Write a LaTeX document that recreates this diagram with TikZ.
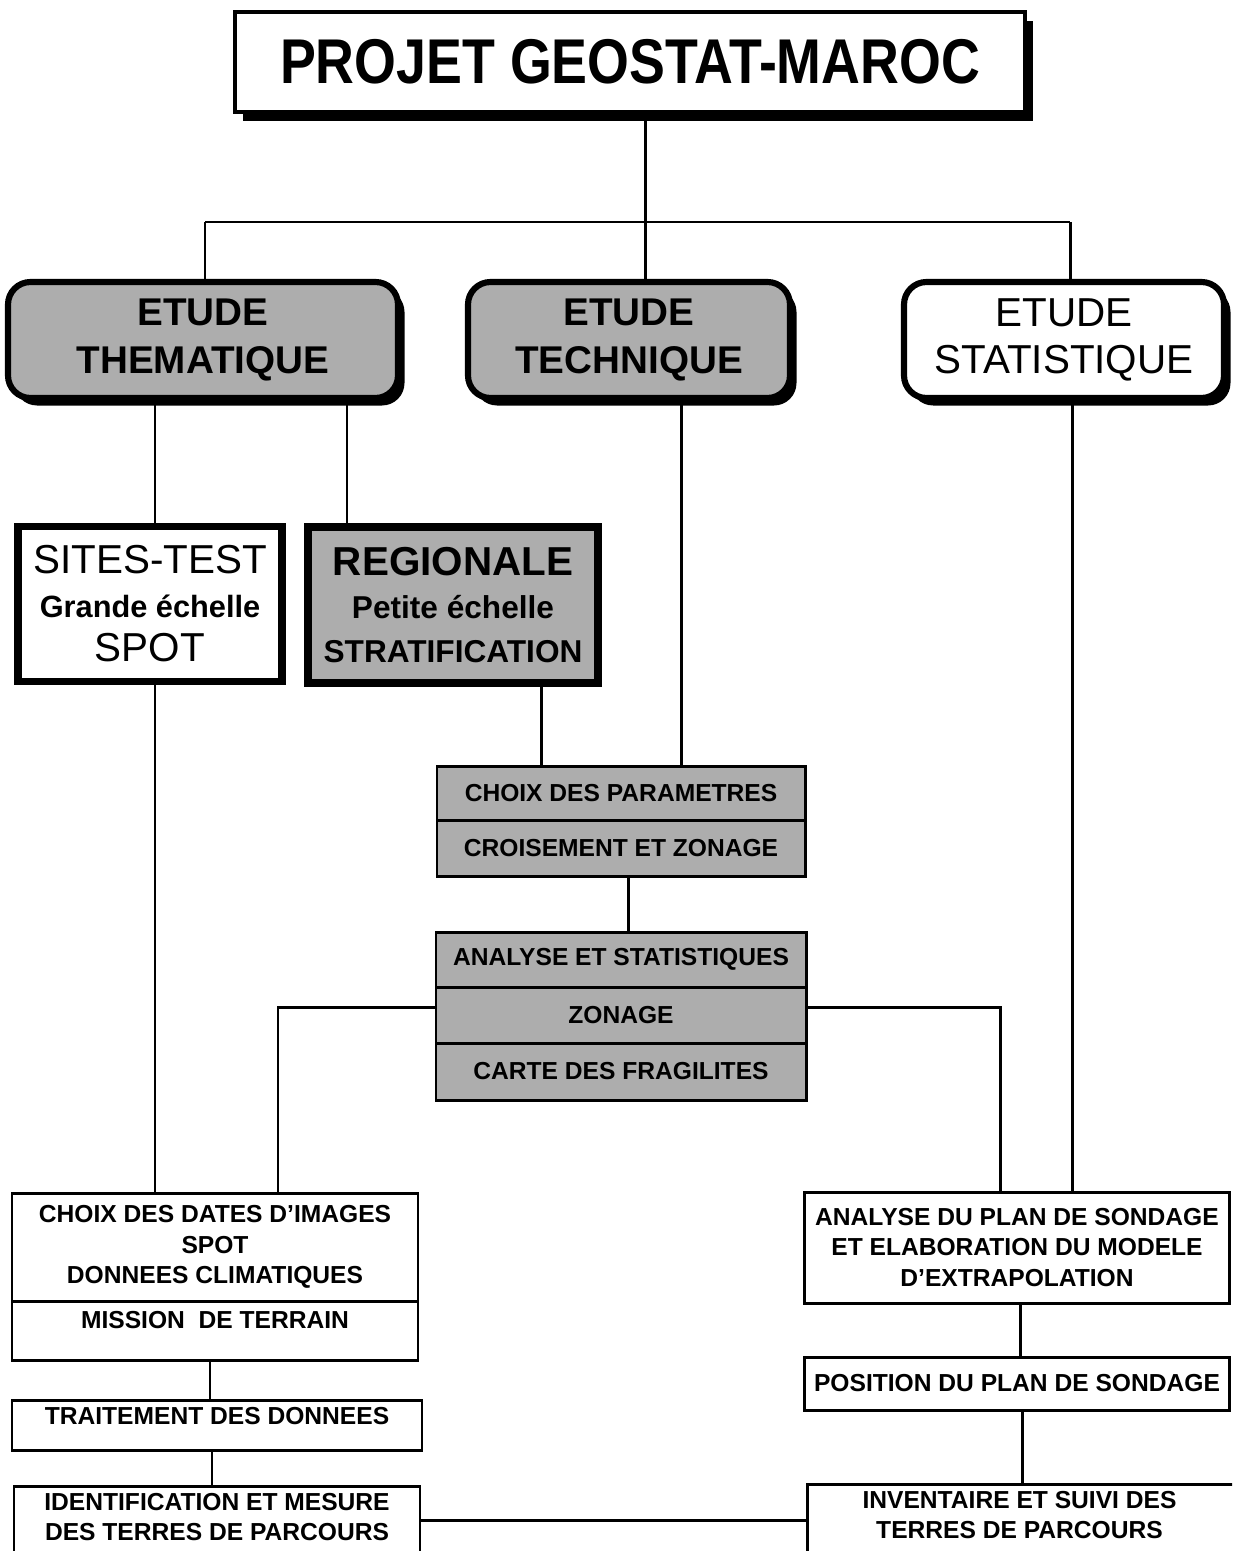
\documentclass[tikz,border=0pt]{standalone}
\usepackage{fontspec}
\setmainfont{Liberation Sans}
\usepackage{graphicx}
\usetikzlibrary{shadows}
\definecolor{halftone}{gray}{0.68}
\begin{document}
\begin{tikzpicture}[x=0.02cm,y=-0.02cm,
  wire/.style={line width=1.7pt},
  sz/.style 2 args={minimum width=#1*0.02cm, minimum height=#2*0.02cm},
  cell/.style={draw, line width=1.7pt, inner sep=0pt, align=center,
    font=\bfseries\fontsize{14}{17.5}\selectfont},
  greycell/.style={cell, fill=halftone},
  toplabel/.style={anchor=center, align=center, inner sep=0pt,
    font=\bfseries\fontsize{14}{17.5}\selectfont},
  titlebox/.style={draw, line width=2.5pt, fill=white, inner sep=0pt,
    drop shadow={shadow xshift=0.16cm, shadow yshift=-0.18cm, fill=black, opacity=1}},
  studybox/.style={draw, line width=3.5pt, rounded corners=0.45cm, inner sep=0pt,
    align=center, drop shadow={shadow xshift=0.13cm, shadow yshift=-0.15cm, fill=black, opacity=1}},
  scalebox/.style={draw, line width=4pt, inner sep=0pt, align=center}
]
\useasboundingbox (0,0) rectangle (1232,1551);
\clip (0,0) rectangle (1232,1551);
\fill[white] (0,0) rectangle (1232,1551);

% --- junction points of the tree ---
\coordinate (jtop) at (645,222);
\coordinate (jleft) at (205,222);
\coordinate (jright) at (1070,222);
\coordinate (xsites) at (155,0);
\coordinate (xreg) at (347,0);
\coordinate (xregdown) at (541,0);
\coordinate (xtech) at (681,0);
\coordinate (xmid) at (628,0);
\coordinate (xstat) at (1072,0);
\coordinate (zl) at (278,1007);
\coordinate (zr) at (1000,1007);
\coordinate (xl1) at (210,0);
\coordinate (xl2) at (212,0);
\coordinate (xr1) at (1020,0);
\coordinate (xr2) at (1022,0);
\coordinate (ylink) at (0,1520);

% --- title ---
\node[titlebox, sz={790}{100}, font=\bfseries\fontsize{36}{40}\selectfont]
  (title) at (630,62) {\scalebox{0.85}[1]{PROJET GEOSTAT-MAROC}};

% --- three studies ---
\node[studybox, fill=halftone, sz={390}{116}, font=\bfseries\fontsize{22}{27}\selectfont]
  (them) at (203,340) {ETUDE\\THEMATIQUE};
\node[studybox, fill=halftone, sz={322}{116}, font=\bfseries\fontsize{22}{27}\selectfont]
  (tech) at (629,340) {ETUDE\\TECHNIQUE};
\node[studybox, fill=white, sz={320}{116}, font=\fontsize{23}{27}\selectfont]
  (stat) at (1064,340) {ETUDE\\STATISTIQUE};

% --- scales ---
\node[scalebox, fill=white, sz={264}{155}, font=\fontsize{23}{25}\selectfont]
  (sites) at (150,604) {SITES-TEST\\{\bfseries\fontsize{17.5}{25}\selectfont Grande échelle}\\SPOT};
\node[scalebox, fill=halftone, sz={290}{156}, font=\bfseries\fontsize{18}{25}\selectfont]
  (reg) at (453,605) {{\fontsize{23}{25}\selectfont REGIONALE}\\Petite échelle\\STRATIFICATION};

% --- technical chain ---
\node[greycell, sz={368}{54}] (param) at (621,793) {CHOIX DES PARAMETRES};
\node[greycell, sz={368}{56}] (crois) at (621,848) {CROISEMENT ET ZONAGE};
\node[greycell, sz={370}{55}] (anal) at (621,959.5) {ANALYSE ET STATISTIQUES};
\node[greycell, sz={370}{56}] (zon) at (621,1015) {ZONAGE};
\node[greycell, sz={370}{57}] (carte) at (621,1071.5) {CARTE DES FRAGILITES};

% --- left column ---
\node[cell, sz={406}{108}] (dates) at (215,1247)
  {CHOIX DES DATES D'IMAGES\\SPOT\\DONNEES CLIMATIQUES};
\node[cell, sz={406}{59},
  label={[toplabel, yshift=-0.42cm]north:MISSION\ \ DE TERRAIN}]
  (mission) at (215,1330.5) {};
\node[cell, sz={410}{50},
  label={[toplabel, yshift=-0.36cm]north:TRAITEMENT DES DONNEES}]
  (trait) at (217,1425) {};
\node[cell, sz={406}{130}, anchor=north,
  label={[toplabel, yshift=-0.64cm]north:IDENTIFICATION ET MESURE\\DES TERRES DE PARCOURS}]
  (ident) at (217,1485) {};

% --- right column ---
\node[cell, sz={425}{111}] (plan) at (1017,1247.5)
  {ANALYSE DU PLAN DE SONDAGE\\ET ELABORATION DU MODELE\\D'EXTRAPOLATION};
\node[cell, sz={425}{53}] (pos) at (1017,1383.5) {POSITION DU PLAN DE SONDAGE};
\node[cell, sz={440}{130}, anchor=north west,
  label={[toplabel, xshift=-0.16cm, yshift=-0.64cm]north:INVENTAIRE ET SUIVI DES\\TERRES DE PARCOURS}]
  (inv) at (806,1483) {};

% --- connectors ---
\draw[wire] (title.south -| jtop) -- (jtop);
\draw[wire] (jleft) -- (jright);
\draw[wire] (jleft) -- (them.north -| jleft);
\draw[wire] (jtop) -- (tech.north -| jtop);
\draw[wire] (jright) -- (stat.north -| jright);
\draw[wire] (them.south -| xsites) -- (sites.north -| xsites);
\draw[wire] (them.south -| xreg) -- (reg.north -| xreg);
\draw[wire] (sites.south -| xsites) -- (dates.north -| xsites);
\draw[wire] (reg.south -| xregdown) -- (param.north -| xregdown);
\draw[wire] (tech.south -| xtech) -- (param.north -| xtech);
\draw[wire] (crois.south -| xmid) -- (anal.north -| xmid);
\draw[wire] (zon.west |- zl) -- (zl) -- (dates.north -| zl);
\draw[wire] (zon.east |- zr) -- (zr) -- (plan.north -| zr);
\draw[wire] (stat.south -| xstat) -- (plan.north -| xstat);
\draw[wire] (mission.south -| xl1) -- (trait.north -| xl1);
\draw[wire] (trait.south -| xl2) -- (ident.north -| xl2);
\draw[wire] (plan.south -| xr1) -- (pos.north -| xr1);
\draw[wire] (pos.south -| xr2) -- (inv.north -| xr2);
\draw[wire] (ident.east |- ylink) -- (inv.west |- ylink);
\end{tikzpicture}
\end{document}
